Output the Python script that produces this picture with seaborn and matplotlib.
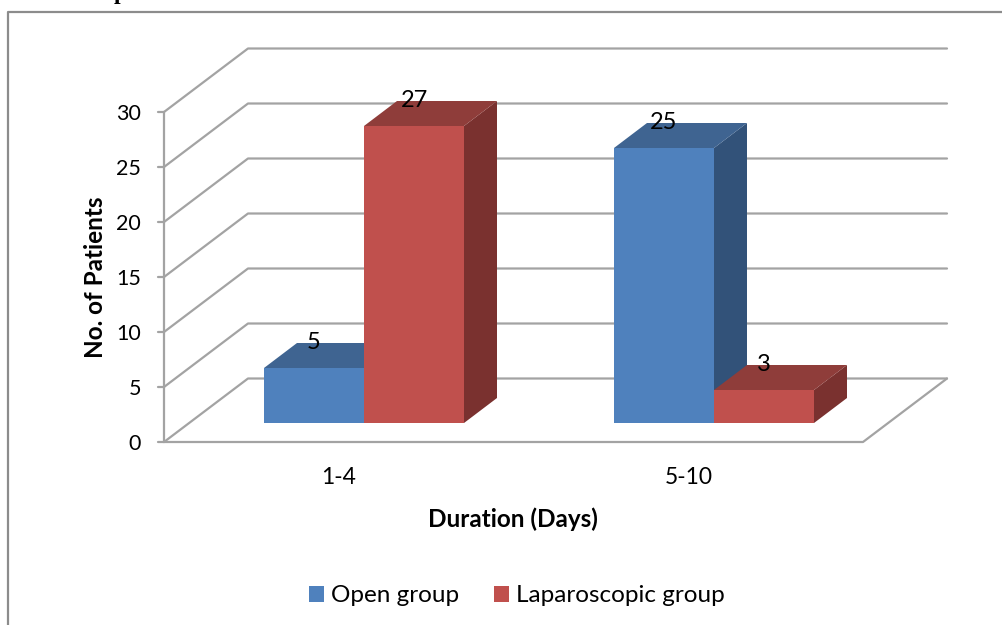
import matplotlib
matplotlib.use('Agg')
import matplotlib.pyplot as plt
from matplotlib.colors import to_hex
from matplotlib.patches import Polygon
import pandas as pd
import seaborn as sns

# data
durations = ['1-4', '5-10']
open_group = [5, 25]
laparoscopic_group = [27, 3]
y_ticks = [0, 5, 10, 15, 20, 25, 30]

BLUE = '#4f81bd'
RED = '#c0504d'
TOPS = {BLUE: '#3f6491', RED: '#8f3d3a'}
SIDES = {BLUE: '#325279', RED: '#7a312f'}
GRID = '#a3a3a3'

sns.set_theme(style='white')
plt.rcParams['font.family'] = ['Lato', 'DejaVu Sans']

df = pd.DataFrame({
    'Duration': durations * 2,
    'No. of Patients': open_group + laparoscopic_group,
    'Group': ['Open group'] * 2 + ['Laparoscopic group'] * 2,
})

fig = plt.figure(figsize=(10.03, 6.25), dpi=100)
ax = fig.add_axes([0, 0, 1, 1])

sns.barplot(data=df, x='Duration', y='No. of Patients', hue='Group',
            palette=[BLUE, RED], width=200 / 350, gap=0, saturation=1,
            edgecolor='none', linewidth=0, ax=ax)

# one category is 350 px wide, one value unit 11 px high
PX = 1 / 350
PY = 1 / 11
ax.set_xlim(-364 * PX, (1003 - 364) * PX)
ax.set_ylim((423 - 625) * PY, 423 * PY)
ax.axis('off')

# depth of the floor and of the bars, in data units
floor_dx, floor_dy = 84 * PX, 63.5 * PY
bar_dx, bar_dy = 33 * PX, 25 * PY
# front edge of the floor sits below and left of the bar plane
base = -19 * PY
left = -200 * PX
right = 499 * PX


def line(xs, ys, lw=1.6):
    ax.plot(xs, ys, color=GRID, lw=lw, solid_capstyle='round', zorder=1, clip_on=False)


for v in y_ticks:
    y = base + v
    line([left, left + floor_dx, right + floor_dx], [y, y + floor_dy, y + floor_dy])
    line([left - 6 * PX, left], [y, y])
    ax.text(left - 23 * PX, y - 2 * PY, str(v), ha='right', va='center', fontsize=15.5, color='black')
line([left, left], [base, base + y_ticks[-1]])
line([left, right, right + floor_dx], [base, base, base + floor_dy])

# side and top faces of every bar, painted left to right
bars = sorted([b for b in ax.patches if b.get_height() > 0], key=lambda b: b.get_x())
for i, bar in enumerate(bars):
    col = to_hex(bar.get_facecolor())
    x0, x1 = bar.get_x(), bar.get_x() + bar.get_width()
    h = bar.get_height()
    z = 3 + i
    ax.add_patch(Polygon([(x1, 0), (x1 + bar_dx, bar_dy), (x1 + bar_dx, h + bar_dy), (x1, h)],
                         fc=SIDES[col], ec='none', zorder=z))
    ax.add_patch(Polygon([(x0, h), (x0 + bar_dx, h + bar_dy), (x1 + bar_dx, h + bar_dy), (x1, h)],
                         fc=TOPS[col], ec='none', zorder=z))
    bar.set_zorder(z + 0.5)
    ax.text((x0 + x1) / 2, h + 2.35, str(int(h)), ha='center', va='center',
            fontsize=17, color='black', zorder=20)

for i, d in enumerate(durations):
    ax.text(i - 25 * PX, (423 - 478) * PY, d, ha='center', va='center', fontsize=16.5, color='black')

ax.text(149 * PX, (423 - 519) * PY, 'Duration (Days)', ha='center', va='center',
        fontsize=17.5, fontweight='bold', color='black')
ax.text(-269 * PX, (423 - 277) * PY, 'No. of Patients', ha='center', va='center',
        rotation=90, fontsize=17.5, fontweight='bold', color='black')

# chart frame, only the left and top edges are in the crop
ax.plot([(8 - 364) * PX, (8 - 364) * PX, (1003 - 364) * PX],
        [(423 - 625) * PY, (423 - 12) * PY, (423 - 12) * PY],
        color='#8c8c8c', lw=1.6, clip_on=False, zorder=1)

# tail of the caption above the chart
fig.text(120 / 1003, 1 - 4 / 625, 'p', ha='center', va='bottom', fontsize=17,
         fontweight='bold', family='Liberation Serif', color='black')

handles, labels = ax.get_legend_handles_labels()
ax.legend(handles, labels, ncol=2, loc='center', frameon=False, fontsize=17.5,
          bbox_to_anchor=(517 / 1003, 1 - 596 / 625), bbox_transform=fig.transFigure,
          handlelength=0.62, handleheight=0.62, handletextpad=0.29, columnspacing=1.45,
          borderpad=0, labelcolor='black')

fig.savefig('out.png', dpi=100)
